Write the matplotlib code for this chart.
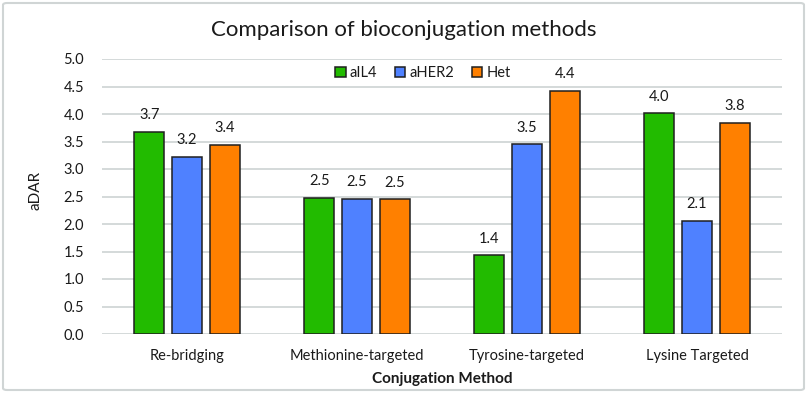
import matplotlib
matplotlib.use("Agg")
import matplotlib.pyplot as plt
import numpy as np
from matplotlib.patches import FancyBboxPatch

categories = ["Re-bridging", "Methionine-targeted", "Tyrosine-targeted", "Lysine Targeted"]
series_names = ["aIL4", "aHER2", "Het"]
aIL4 = [3.67, 2.47, 1.43, 4.01]
aHER2 = [3.22, 2.46, 3.45, 2.06]
Het = [3.44, 2.45, 4.42, 3.84]
yticks = [0.0, 0.5, 1.0, 1.5, 2.0, 2.5, 3.0, 3.5, 4.0, 4.5, 5.0]

colors = ["#22BB00", "#4F81FF", "#FF8000"]
plt.rcParams['font.family'] = ['Lato', 'DejaVu Sans']
txt = "#1a1a1a"

fig = plt.figure(figsize=(8.07, 3.93), dpi=100)
ax = fig.add_axes([102/807, (393-334)/393, 680/807, 275/393])

x = np.arange(len(categories))
w = 30/170
pitch = 37.7/170
for i, (vals, name) in enumerate(zip([aIL4, aHER2, Het], series_names)):
    bars = ax.bar(x + (i-1)*pitch, vals, width=w, color=colors[i], edgecolor="#1f1f1f",
                  linewidth=1.1, label=name, zorder=3)
    ax.bar_label(bars, labels=[f"{v:.1f}" for v in vals], padding=7, fontsize=10.5, color=txt)

ax.set_xlim(-0.5, len(categories)-0.5)
ax.set_ylim(0, 5.0)
ax.set_yticks(yticks)
ax.set_yticklabels([f"{t:.1f}" for t in yticks])
ax.set_xticks(x)
ax.set_xticklabels(categories)
ax.tick_params(axis='both', length=0, labelsize=10.5, colors=txt)
ax.tick_params(axis='y', pad=13)
ax.tick_params(axis='x', pad=11)
ax.grid(axis='y', color="#cdd3d3", linewidth=1.2, zorder=0)
for s in ax.spines.values():
    s.set_visible(False)

ax.set_xlabel("Conjugation Method", fontsize=11, fontweight='bold', color=txt, labelpad=6)
fig.text(35/807, 1-190/393, "aDAR", rotation=90, ha='center', va='center', fontsize=11, color=txt)
fig.text(0.5, 1-30/393, "Comparison of bioconjugation methods", ha='center', va='center',
         fontsize=16, color=txt)

leg = ax.legend(loc='center', bbox_to_anchor=(423/807, 1-73/393), bbox_transform=fig.transFigure,
                ncol=3, frameon=False, fontsize=10.5, handlelength=0.7, handleheight=0.7,
                handletextpad=0.3, columnspacing=1.2, borderpad=0)
for t in leg.get_texts():
    t.set_color(txt)

border = FancyBboxPatch((3/807, 3/393), 801/807, 387/393, boxstyle="round,pad=0,rounding_size=0.005",
                        transform=fig.transFigure, fill=False, edgecolor="#d0d5d5", linewidth=1.5)
fig.patches.append(border)

fig.savefig("out.png", dpi=100)
